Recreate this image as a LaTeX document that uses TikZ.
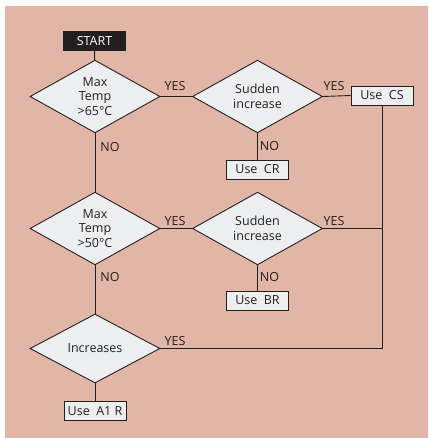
\documentclass[tikz,border=0pt]{standalone}
\usepackage{fontspec}
\setmainfont{Open Sans}
\usetikzlibrary{shapes.geometric,calc}
\definecolor{panel}{HTML}{E1B6A6}
\definecolor{boxfill}{HTML}{EDEEF0}
\definecolor{ink}{HTML}{231F20}
\begin{document}
\begin{tikzpicture}[x=1pt,y=-1pt,
  font=\fontsize{12.5}{14.5}\selectfont,
  every node/.style={text=ink},
  decision/.style={diamond, draw=ink, fill=boxfill, line width=0.9pt,
    minimum width=130pt, minimum height=69pt, inner sep=0pt, align=center},
  action/.style={rectangle, draw=ink, fill=boxfill, line width=0.9pt,
    minimum width=62pt, minimum height=19pt, inner sep=1pt},
  startbox/.style={rectangle, fill=ink, text=white,
    minimum width=63pt, minimum height=20pt, inner sep=1pt},
  link/.style={draw=ink, line width=0.9pt},
  tag/.style={inner sep=0pt, text=ink}]
\useasboundingbox (0,0) rectangle (428,438);
\fill[white] (0,0) rectangle (428,438);
\fill[panel] (5,6) rectangle (428,438);

% boxes and decisions
\node[startbox] (start) at (94.5,41) {START};
\node[decision] (d1) at (95,96.5) {Max\\Temp\\>65°C};
\node[decision] (d2) at (257.5,96.5) {Sudden\\increase};
\node[action] (cs) at (382,95.5) {Use\ \ CS};
\node[action] (cr) at (257.5,169.5) {Use\ \ CR};
\node[decision] (d3) at (95,228.5) {Max\\Temp\\>50°C};
\node[decision] (d4) at (257.5,228.5) {Sudden\\increase};
\node[action] (br) at (257.5,300.5) {Use\ \ BR};
\node[decision] (d5) at (95,348.5) {Increases};
\node[action] (a1r) at (95,411) {Use\ \ A1 R};

% connectors
\draw[link] (start) -- (d1);
\draw[link] (d1.east) -- (d2.west);
\draw[link] (d2.east) -- (cs.west);
\draw[link] (d2.south) -- (cr.north);
\draw[link] (d1.south) -- (d3.north);
\draw[link] (d3.east) -- (d4.west);
\draw[link] (d4.south) -- (br.north);
\draw[link] (d3.south) -- (d5.north);
\draw[link] (d5.south) -- (a1r.north);
\draw[link] (cs.south) -- (cs.south |- d5.east) -- (d5.east);
\draw[link] (d4.east) -- (cs.south |- d4.east);

% branch labels
\node[tag] (yes1) at (175,86.5) {YES};
\node[tag] (yes2) at (334,86.5) {YES};
\node[tag] (no2) at (269.5,146) {NO};
\node[tag] (no1) at (110,147) {NO};
\node[tag] (yes3) at (175,221) {YES};
\node[tag] (yes4) at (334,221) {YES};
\node[tag] (no4) at (269.5,277) {NO};
\node[tag] (no3) at (110,277) {NO};
\node[tag] (yes5) at (175,341) {YES};
\end{tikzpicture}
\end{document}
